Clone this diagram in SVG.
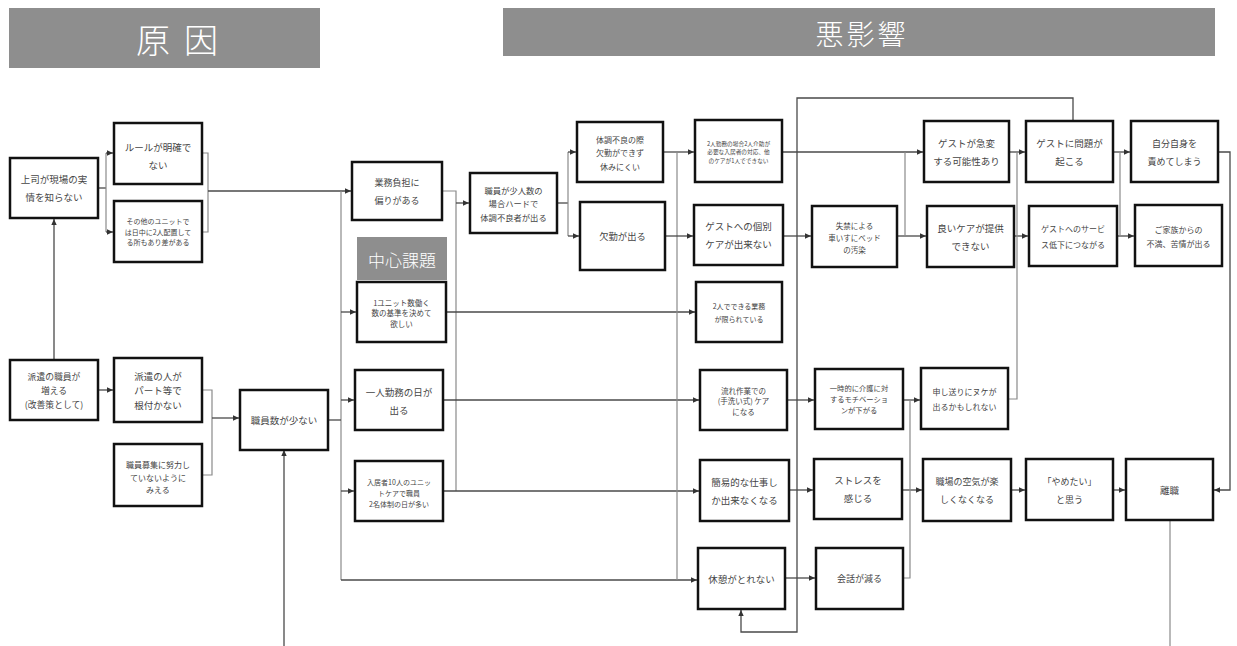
<svg xmlns="http://www.w3.org/2000/svg" width="1237" height="646" viewBox="0 0 1237 646">
<style>
.box{fill:#fff;stroke:#111;stroke-width:2.5}
.t{font-family:"Noto Sans CJK JP","Noto Sans",sans-serif;fill:#444;text-anchor:middle;dominant-baseline:central}
.c{fill:none;stroke:#4a4a4a;stroke-width:1.3}
.a{fill:none;stroke:#4a4a4a;stroke-width:1.3;marker-end:url(#ah)}
.bus{fill:none;stroke:#8a8a8a;stroke-width:1.2}
.hdr{fill:#8e8e8e}
.ht{font-family:"Noto Sans CJK JP","Noto Sans",sans-serif;fill:#fff;text-anchor:middle;dominant-baseline:central;font-weight:300}
</style>
<defs>
<marker id="ah" viewBox="0 0 10 10" refX="10" refY="5" markerWidth="7" markerHeight="6" markerUnits="userSpaceOnUse" orient="auto">
<path d="M0,0.5 L10,5 L0,9.5 z" fill="#333"/>
</marker>
</defs>
<rect width="1237" height="646" fill="#fff"/>

<g id="hdr-cause"><rect class="hdr" x="9" y="8" width="311" height="60"/><text class="ht" x="184" y="38" font-size="34" letter-spacing="14">原因</text></g>
<g id="hdr-effect"><rect class="hdr" x="503" y="8" width="712" height="48"/><text class="ht" x="862" y="33" font-size="28" letter-spacing="3">悪影響</text></g>

<g id="connectors">
<path class="c" d="M98,188 H106"/>
<path class="bus" d="M106,153 V232"/>
<path class="a" d="M106,153 H113"/>
<path class="a" d="M106,232 H113"/>
<path class="bus" d="M202,153 H208 V232 H202"/>
<path class="a" d="M208,191 H351"/>
<path class="bus" d="M341,191 V580"/>
<path class="c" d="M328,420 H341"/>
<path class="a" d="M341,312 H356"/>
<path class="a" d="M341,400 H354"/>
<path class="a" d="M341,491 H354"/>
<path class="a" d="M341,580 H697"/>
<path class="a" d="M54,360 V219"/>
<path class="a" d="M98,390 H113"/>
<path class="bus" d="M202,390 H212 V475 H202"/>
<path class="a" d="M212,418 H239"/>
<path class="a" d="M284,646 V450"/>
<path class="bus" d="M442,191 H456 V491"/>
<path class="a" d="M456,203 H469"/>
<path class="a" d="M446,312 H695"/>
<path class="a" d="M443,400 H699"/>
<path class="a" d="M443,491 H699"/>
<path class="c" d="M557,203 H568"/>
<path class="bus" d="M568,152 V236"/>
<path class="a" d="M568,152 H576"/>
<path class="a" d="M568,236 H579"/>
<path class="a" d="M663,152 H694"/>
<path class="bus" d="M677,152 V580"/>
<path class="a" d="M665,236 H693"/>
<path class="a" d="M782,152 H923"/>
<path class="a" d="M783,236 H811"/>
<path class="a" d="M897,236 H926"/>
<path class="bus" d="M905,152 V236"/>
<path class="a" d="M1073,121 V98 H797 V632 H741 V610"/>
<path class="a" d="M787,400 H814"/>
<path class="a" d="M789,490 H813"/>
<path class="a" d="M785,578 H815"/>
<path class="a" d="M903,400 H920"/>
<path class="a" d="M902,490 H922"/>
<path class="bus" d="M903,578 H910 V400"/>
<path class="a" d="M1009,152 H1025"/>
<path class="a" d="M1014,236 H1028"/>
<path class="bus" d="M1008,399 H1017 V152"/>
<path class="a" d="M1113,152 H1130"/>
<path class="a" d="M1117,236 H1134"/>
<path class="bus" d="M1120,152 V236"/>
<path class="a" d="M1218,152 H1230 V490 H1214"/>
<path class="a" d="M1011,490 H1025"/>
<path class="a" d="M1113,490 H1125"/>
<path class="bus" d="M1170,520 V646"/>
</g>

<g id="n-A"><rect class="box" x="10" y="158" width="88" height="60"/><text class="t" font-size="9.5"><tspan x="54" y="179">上司が現場の実</tspan><tspan x="54" y="197">情を知らない</tspan></text></g>
<g id="n-B"><rect class="box" x="114" y="123" width="88" height="61"/><text class="t" font-size="9.5"><tspan x="158" y="147">ルールが明確で</tspan><tspan x="158" y="165">ない</tspan></text></g>
<g id="n-C"><rect class="box" x="114" y="201" width="88" height="61"/><text class="t" font-size="7"><tspan x="158" y="221">その他のユニットで</tspan><tspan x="158" y="231.5">は日中に2人配置して</tspan><tspan x="158" y="242">る所もあり差がある</tspan></text></g>
<g id="n-D"><rect class="box" x="10" y="360" width="88" height="60"/><text class="t" font-size="8.8"><tspan x="54" y="376">派遣の職員が</tspan><tspan x="54" y="390">増える</tspan><tspan x="54" y="404">(改善策として)</tspan></text></g>
<g id="n-E"><rect class="box" x="114" y="358" width="88" height="64"/><text class="t" font-size="9.5"><tspan x="158" y="375.5">派遣の人が</tspan><tspan x="158" y="390">パート等で</tspan><tspan x="158" y="404.5">根付かない</tspan></text></g>
<g id="n-F"><rect class="box" x="114" y="444" width="88" height="62"/><text class="t" font-size="8"><tspan x="158" y="464">職員募集に努力し</tspan><tspan x="158" y="476.5">ていないように</tspan><tspan x="158" y="489">みえる</tspan></text></g>
<g id="n-G"><rect class="box" x="240" y="390" width="88" height="60"/><text class="t" font-size="9.5" x="284" y="420">職員数が少ない</text></g>
<g id="n-H"><rect class="box" x="352" y="162" width="90" height="58"/><text class="t" font-size="9"><tspan x="397" y="182">業務負担に</tspan><tspan x="397" y="200">偏りがある</tspan></text></g>
<g id="label-core"><rect class="hdr" x="357" y="237" width="90" height="43"/><text class="ht" x="402" y="259" font-size="17">中心課題</text></g>
<g id="n-I"><rect class="box" x="357" y="282" width="89" height="60"/><text class="t" font-size="7.5"><tspan x="401.5" y="301.5">1ユニット数働く</tspan><tspan x="401.5" y="312">数の基準を決めて</tspan><tspan x="401.5" y="322.5">欲しい</tspan></text></g>
<g id="n-J"><rect class="box" x="355" y="370" width="88" height="60"/><text class="t" font-size="9.5"><tspan x="399" y="392">一人勤務の日が</tspan><tspan x="399" y="410">出る</tspan></text></g>
<g id="n-K"><rect class="box" x="355" y="461" width="88" height="60"/><text class="t" font-size="7"><tspan x="399" y="482">入居者10人のユニッ</tspan><tspan x="399" y="493">トケアで職員</tspan><tspan x="399" y="504">2名体制の日が多い</tspan></text></g>
<g id="n-L"><rect class="box" x="470" y="173" width="87" height="60"/><text class="t" font-size="8.3"><tspan x="513.5" y="189.5">職員が少人数の</tspan><tspan x="513.5" y="203">場合ハードで</tspan><tspan x="513.5" y="216.5">体調不良者が出る</tspan></text></g>
<g id="n-M"><rect class="box" x="577" y="122" width="86" height="60"/><text class="t" font-size="8"><tspan x="620" y="138.5">体調不良の際</tspan><tspan x="620" y="152">欠勤ができず</tspan><tspan x="620" y="165.5">休みにくい</tspan></text></g>
<g id="n-N"><rect class="box" x="580" y="202" width="85" height="68"/><text class="t" font-size="9.3" x="622.5" y="236">欠勤が出る</text></g>
<g id="n-O"><rect class="box" x="695" y="120" width="87" height="62"/><text class="t" font-size="5.7"><tspan x="738.5" y="142.5">2人勤務の場合2人介助が</tspan><tspan x="738.5" y="151">必要な入居者の対応、他</tspan><tspan x="738.5" y="159.5">のケアが1人でできない</tspan></text></g>
<g id="n-P"><rect class="box" x="694" y="205" width="89" height="60"/><text class="t" font-size="9.5"><tspan x="738.5" y="226">ゲストへの個別</tspan><tspan x="738.5" y="244">ケアが出来ない</tspan></text></g>
<g id="n-Q"><rect class="box" x="696" y="282" width="86" height="60"/><text class="t" font-size="7"><tspan x="739" y="305.5">2人でできる業務</tspan><tspan x="739" y="318.5">が限られている</tspan></text></g>
<g id="n-R"><rect class="box" x="700" y="370" width="87" height="60"/><text class="t" font-size="7.5"><tspan x="743.5" y="389.5">流れ作業での</tspan><tspan x="743.5" y="400">(手洗い式) ケア</tspan><tspan x="743.5" y="410.5">になる</tspan></text></g>
<g id="n-S"><rect class="box" x="700" y="460" width="89" height="61"/><text class="t" font-size="9.5"><tspan x="744.5" y="481.5">簡易的な仕事し</tspan><tspan x="744.5" y="499.5">か出来なくなる</tspan></text></g>
<g id="n-T"><rect class="box" x="698" y="548" width="87" height="61"/><text class="t" font-size="9.5" x="741.5" y="578.5">休憩がとれない</text></g>
<g id="n-U"><rect class="box" x="812" y="206" width="85" height="61"/><text class="t" font-size="7.5"><tspan x="854.5" y="224.5">失禁による</tspan><tspan x="854.5" y="236.5">車いすにベッド</tspan><tspan x="854.5" y="248.5">の汚染</tspan></text></g>
<g id="n-V"><rect class="box" x="815" y="369" width="88" height="60"/><text class="t" font-size="7.3"><tspan x="859" y="388">一時的に介護に対</tspan><tspan x="859" y="399">するモチベーショ</tspan><tspan x="859" y="410">ンが下がる</tspan></text></g>
<g id="n-W"><rect class="box" x="814" y="459" width="88" height="60"/><text class="t" font-size="9.5"><tspan x="858" y="480">ストレスを</tspan><tspan x="858" y="498">感じる</tspan></text></g>
<g id="n-X"><rect class="box" x="816" y="548" width="87" height="61"/><text class="t" font-size="9" x="859.5" y="578.5">会話が減る</text></g>
<g id="n-Y"><rect class="box" x="924" y="121" width="85" height="61"/><text class="t" font-size="9.5"><tspan x="966.5" y="142.5">ゲストが急変</tspan><tspan x="966.5" y="160.5">する可能性あり</tspan></text></g>
<g id="n-Z"><rect class="box" x="927" y="206" width="87" height="61"/><text class="t" font-size="9.5"><tspan x="970.5" y="227.5">良いケアが提供</tspan><tspan x="970.5" y="245.5">できない</tspan></text></g>
<g id="n-AA"><rect class="box" x="921" y="368" width="87" height="61"/><text class="t" font-size="8"><tspan x="964.5" y="391">申し送りにヌケが</tspan><tspan x="964.5" y="406">出るかもしれない</tspan></text></g>
<g id="n-AB"><rect class="box" x="923" y="459" width="88" height="62"/><text class="t" font-size="9"><tspan x="967" y="481">職場の空気が楽</tspan><tspan x="967" y="499">しくなくなる</tspan></text></g>
<g id="n-AC"><rect class="box" x="1026" y="121" width="87" height="61"/><text class="t" font-size="9.5"><tspan x="1069.5" y="142.5">ゲストに問題が</tspan><tspan x="1069.5" y="160.5">起こる</tspan></text></g>
<g id="n-AD"><rect class="box" x="1029" y="206" width="88" height="60"/><text class="t" font-size="8"><tspan x="1073" y="228">ゲストへのサービ</tspan><tspan x="1073" y="244">ス低下につながる</tspan></text></g>
<g id="n-AE"><rect class="box" x="1026" y="459" width="87" height="61"/><text class="t" font-size="9"><tspan x="1069.5" y="480.5">「やめたい」</tspan><tspan x="1069.5" y="498.5">と思う</tspan></text></g>
<g id="n-AF"><rect class="box" x="1131" y="121" width="87" height="61"/><text class="t" font-size="9"><tspan x="1174.5" y="142.5">自分自身を</tspan><tspan x="1174.5" y="160.5">責めてしまう</tspan></text></g>
<g id="n-AG"><rect class="box" x="1135" y="205" width="87" height="61"/><text class="t" font-size="8"><tspan x="1178.5" y="228.5">ご家族からの</tspan><tspan x="1178.5" y="242.5">不満、苦情が出る</tspan></text></g>
<g id="n-AH"><rect class="box" x="1126" y="459" width="87" height="61"/><text class="t" font-size="9.5" x="1169.5" y="489.5">離職</text></g>
</svg>
